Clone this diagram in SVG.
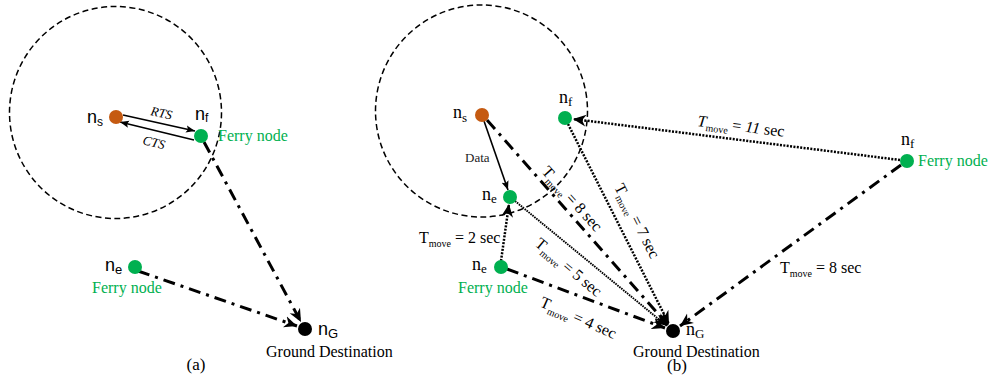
<svg xmlns="http://www.w3.org/2000/svg" width="990" height="383" viewBox="0 0 990 383">
<style>
.range{fill:none;stroke:#000;stroke-width:1.5;stroke-dasharray:6 3.5}
.dd{fill:none;stroke:#000;stroke-width:3;stroke-dasharray:12 6 3 6}
.dot{fill:none;stroke:#000;stroke-width:2.5;stroke-dasharray:2 1.4}
.dotthin{fill:none;stroke:#000;stroke-width:1.9;stroke-dasharray:1.6 0.9}
.solid{fill:none;stroke:#000;stroke-width:1.6}
.green{fill:#00b050}
.orange{fill:#c55a11}
.black{fill:#000}
</style>
<defs>
<marker id="ah" viewBox="0 0 10 10" refX="10" refY="5" markerWidth="13" markerHeight="13" markerUnits="userSpaceOnUse" orient="auto">
<path d="M0,0.5 L10,5 L0,9.5 L3,5 z" fill="#000"/>
</marker>
<marker id="ahs" viewBox="0 0 10 10" refX="10" refY="5" markerWidth="9" markerHeight="9" markerUnits="userSpaceOnUse" orient="auto">
<path d="M0,1 L10,5 L0,9 L2,5 z" fill="#000"/>
</marker>
</defs>

<!-- Panel (a) -->
<circle class="range" cx="115.5" cy="112.5" r="106"/>
<g id="connectors-a">
<line class="solid" x1="123" y1="115" x2="195" y2="131" marker-end="url(#ahs)"/>
<line class="solid" x1="194" y1="140" x2="120" y2="122" marker-end="url(#ahs)"/>
<line class="dd" x1="204" y1="142" x2="301" y2="322" marker-end="url(#ah)"/>
<line class="dd" x1="138" y1="271" x2="297" y2="326" marker-end="url(#ah)"/>
<g font-family="'Liberation Serif','Times New Roman',serif" font-size="13" font-style="italic" fill="#000">
<text transform="translate(150,115) rotate(12)">RTS</text>
<text transform="translate(142,144) rotate(14)">CTS</text>
</g>
</g>
<g id="a-ns" font-family="'Liberation Sans',Arial,sans-serif" fill="#000">
<circle class="orange" cx="116" cy="117" r="7"/>
<text x="87" y="123" font-size="18">n<tspan font-size="12" dy="3">s</tspan></text>
</g>
<g id="a-nf" font-family="'Liberation Sans',Arial,sans-serif" fill="#000">
<circle class="green" cx="201" cy="136" r="7"/>
<text x="195" y="120" font-size="18">n<tspan font-size="12" dy="2">f</tspan></text>
<text x="218" y="141" font-size="16" fill="#00b050" font-family="'Liberation Serif','Times New Roman',serif">Ferry node</text>
</g>
<g id="a-ne" font-family="'Liberation Sans',Arial,sans-serif" fill="#000">
<circle class="green" cx="135" cy="267" r="7"/>
<text x="105" y="271" font-size="18">n<tspan font-size="13" dy="3">e</tspan></text>
<text x="92" y="293" font-size="16" fill="#00b050" font-family="'Liberation Serif','Times New Roman',serif">Ferry node</text>
</g>
<g id="a-nG" font-family="'Liberation Sans',Arial,sans-serif" fill="#000">
<circle class="black" cx="305" cy="329" r="7"/>
<text x="318" y="335" font-size="18">n<tspan font-size="13" dy="3">G</tspan></text>
<text x="266" y="357" font-size="16" font-family="'Liberation Serif','Times New Roman',serif">Ground Destination</text>
</g>
<text x="196" y="370" font-size="17" text-anchor="middle" font-family="'Liberation Serif','Times New Roman',serif">(a)</text>

<!-- Panel (b) -->
<circle class="range" cx="481.5" cy="111" r="106"/>
<g id="connectors-b">
<line class="solid" x1="484" y1="121" x2="508" y2="190" marker-end="url(#ahs)"/>
<line class="dd" x1="487" y1="120" x2="668" y2="325" marker-end="url(#ah)"/>
<line class="dot" x1="568" y1="124" x2="669" y2="324" marker-end="url(#ah)"/>
<line class="dotthin" x1="515" y1="201" x2="667" y2="326" marker-end="url(#ah)"/>
<line class="dd" x1="507" y1="269" x2="665" y2="328" marker-end="url(#ah)"/>
<line class="dd" x1="901" y1="165" x2="680" y2="326" marker-end="url(#ah)"/>
<line class="dot" x1="900" y1="160" x2="573" y2="119" marker-end="url(#ah)"/>
<line class="dot" x1="501" y1="261" x2="509" y2="204" marker-end="url(#ah)"/>
<g font-family="'Liberation Serif','Times New Roman',serif" font-size="16" fill="#000">
<text x="465" y="162" font-size="13" fill="#222">Data</text>
<text transform="translate(541,172) rotate(48)">T<tspan font-size="10" dy="4">move</tspan><tspan dy="-4"> = 8 sec</tspan></text>
<text transform="translate(614,187) rotate(63)">T<tspan font-size="10" dy="4">move</tspan><tspan dy="-4"> = 7 sec</tspan></text>
<text transform="translate(534,245) rotate(40)">T<tspan font-size="10" dy="4">move</tspan><tspan dy="-4"> = 5 sec</tspan></text>
<text transform="translate(539,306) rotate(24)">T<tspan font-size="10" dy="4">move</tspan><tspan dy="-4"> = 4 sec</tspan></text>
<text x="419" y="243">T<tspan font-size="10" dy="4">move</tspan><tspan dy="-4"> = 2 sec</tspan></text>
<text transform="translate(697,126) rotate(7)"><tspan font-style="italic">T</tspan><tspan font-size="10" dy="4">move</tspan><tspan dy="-4"> = <tspan font-style="italic">11</tspan> sec</tspan></text>
<text x="780" y="273">T<tspan font-size="10" dy="4">move</tspan><tspan dy="-4"> = 8 sec</tspan></text>
</g>
</g>
<g id="b-ns" font-family="'Liberation Serif','Times New Roman',serif" fill="#000">
<circle class="orange" cx="482" cy="115" r="7"/>
<text x="453" y="118" font-size="18">n<tspan font-size="13" dy="4">s</tspan></text>
</g>
<g id="b-nf" font-family="'Liberation Serif','Times New Roman',serif" fill="#000">
<circle class="green" cx="565" cy="118" r="7"/>
<text x="559" y="103" font-size="18">n<tspan font-size="13" dy="3">f</tspan></text>
</g>
<g id="b-ne1" font-family="'Liberation Serif','Times New Roman',serif" fill="#000">
<circle class="green" cx="510" cy="197" r="7"/>
<text x="482" y="200" font-size="18">n<tspan font-size="13" dy="3">e</tspan></text>
</g>
<g id="b-ne2" font-family="'Liberation Serif','Times New Roman',serif" fill="#000">
<circle class="green" cx="501" cy="267" r="7"/>
<text x="472" y="270" font-size="18">n<tspan font-size="13" dy="3">e</tspan></text>
<text x="458" y="293" font-size="16" fill="#00b050">Ferry node</text>
</g>
<g id="b-nf2" font-family="'Liberation Serif','Times New Roman',serif" fill="#000">
<circle class="green" cx="907" cy="161" r="7"/>
<text x="901" y="145" font-size="18">n<tspan font-size="13" dy="3">f</tspan></text>
<text x="918" y="166" font-size="16" fill="#00b050">Ferry node</text>
</g>
<g id="b-nG" font-family="'Liberation Serif','Times New Roman',serif" fill="#000">
<circle class="black" cx="673" cy="331" r="7"/>
<text x="686" y="335" font-size="18">n<tspan font-size="13" dy="3">G</tspan></text>
<text x="633" y="357" font-size="16">Ground Destination</text>
</g>
<text x="677" y="371" font-size="17" text-anchor="middle" font-family="'Liberation Serif','Times New Roman',serif">(b)</text>
</svg>
